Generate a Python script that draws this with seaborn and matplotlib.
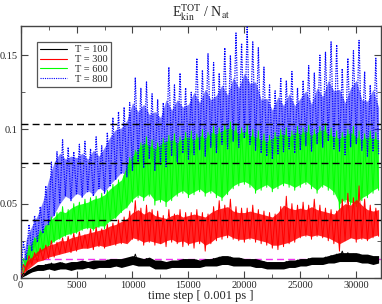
import numpy as np
import pandas as pd
import matplotlib
matplotlib.use("Agg")
import matplotlib.pyplot as plt
import seaborn as sns
from matplotlib.ticker import MultipleLocator, FormatStrFormatter

# noisy traces, read every 250 steps
steps = np.arange(0, 32001, 250)

t100 = [0.000, 0.003, 0.002, 0.005, 0.004, 0.007, 0.005, 0.008, 0.006, 0.009,
        0.006, 0.010, 0.007, 0.009, 0.006, 0.010, 0.007, 0.009, 0.006, 0.010,
        0.007, 0.009, 0.007, 0.011, 0.008, 0.010, 0.007, 0.011, 0.008, 0.010,
        0.008, 0.012, 0.008, 0.011, 0.008, 0.012, 0.009, 0.011, 0.009, 0.013,
        0.010, 0.016, 0.010, 0.012, 0.009, 0.013, 0.010, 0.012, 0.007, 0.010,
        0.007, 0.010, 0.007, 0.010, 0.008, 0.011, 0.008, 0.011, 0.009, 0.012,
        0.008, 0.011, 0.009, 0.012, 0.008, 0.011, 0.009, 0.012, 0.009, 0.013,
        0.010, 0.014, 0.010, 0.013, 0.010, 0.014, 0.010, 0.012, 0.009, 0.013,
        0.009, 0.012, 0.009, 0.012, 0.008, 0.011, 0.008, 0.011, 0.007, 0.010,
        0.007, 0.009, 0.007, 0.010, 0.008, 0.011, 0.008, 0.011, 0.009, 0.012,
        0.009, 0.012, 0.010, 0.013, 0.010, 0.013, 0.010, 0.013, 0.011, 0.014,
        0.011, 0.015, 0.012, 0.016, 0.013, 0.018, 0.013, 0.017, 0.012, 0.016,
        0.012, 0.016, 0.012, 0.015, 0.011, 0.014, 0.010, 0.014, 0.011]

t300 = [0.000, 0.009, 0.005, 0.015, 0.009, 0.017, 0.011, 0.020, 0.012, 0.022,
        0.013, 0.025, 0.014, 0.024, 0.016, 0.027, 0.017, 0.028, 0.017, 0.030,
        0.018, 0.031, 0.020, 0.029, 0.020, 0.033, 0.019, 0.034, 0.021, 0.033,
        0.020, 0.036, 0.022, 0.037, 0.022, 0.039, 0.023, 0.041, 0.024, 0.045,
        0.026, 0.052, 0.025, 0.047, 0.022, 0.049, 0.024, 0.046, 0.022, 0.045,
        0.023, 0.042, 0.021, 0.046, 0.024, 0.043, 0.023, 0.046, 0.021, 0.044,
        0.022, 0.044, 0.020, 0.046, 0.023, 0.044, 0.018, 0.043, 0.023, 0.048,
        0.025, 0.052, 0.026, 0.049, 0.027, 0.053, 0.026, 0.048, 0.025, 0.047,
        0.024, 0.047, 0.026, 0.049, 0.024, 0.046, 0.023, 0.045, 0.022, 0.044,
        0.020, 0.043, 0.019, 0.048, 0.021, 0.055, 0.023, 0.050, 0.024, 0.049,
        0.027, 0.051, 0.028, 0.049, 0.026, 0.053, 0.028, 0.049, 0.027, 0.047,
        0.025, 0.046, 0.023, 0.045, 0.018, 0.053, 0.025, 0.057, 0.027, 0.054,
        0.024, 0.062, 0.026, 0.053, 0.025, 0.049, 0.027, 0.047, 0.028]

t600 = [0.000, 0.013, 0.007, 0.022, 0.011, 0.027, 0.015, 0.032, 0.018, 0.035,
        0.021, 0.041, 0.024, 0.044, 0.026, 0.048, 0.028, 0.046, 0.029, 0.050,
        0.030, 0.051, 0.032, 0.053, 0.033, 0.054, 0.032, 0.055, 0.034, 0.057,
        0.033, 0.059, 0.038, 0.063, 0.040, 0.066, 0.044, 0.069, 0.047, 0.081,
        0.051, 0.086, 0.054, 0.091, 0.052, 0.095, 0.055, 0.093, 0.049, 0.091,
        0.051, 0.094, 0.048, 0.096, 0.052, 0.097, 0.055, 0.095, 0.057, 0.098,
        0.054, 0.099, 0.056, 0.097, 0.058, 0.100, 0.055, 0.098, 0.057, 0.102,
        0.054, 0.101, 0.052, 0.103, 0.056, 0.105, 0.060, 0.104, 0.062, 0.101,
        0.063, 0.103, 0.061, 0.100, 0.057, 0.099, 0.059, 0.097, 0.061, 0.096,
        0.058, 0.098, 0.060, 0.100, 0.062, 0.101, 0.061, 0.099, 0.059, 0.102,
        0.061, 0.101, 0.063, 0.103, 0.060, 0.100, 0.057, 0.102, 0.061, 0.104,
        0.059, 0.101, 0.056, 0.099, 0.045, 0.098, 0.051, 0.100, 0.049, 0.102,
        0.048, 0.099, 0.052, 0.097, 0.054, 0.099, 0.057, 0.098, 0.059]

t800 = [0.000, 0.024, 0.012, 0.036, 0.018, 0.042, 0.024, 0.048, 0.030, 0.062,
        0.036, 0.078, 0.042, 0.085, 0.050, 0.093, 0.055, 0.088, 0.052, 0.085,
        0.056, 0.090, 0.054, 0.092, 0.058, 0.087, 0.055, 0.095, 0.060, 0.089,
        0.057, 0.098, 0.062, 0.108, 0.066, 0.112, 0.070, 0.115, 0.068, 0.118,
        0.072, 0.135, 0.078, 0.128, 0.074, 0.132, 0.080, 0.124, 0.072, 0.120,
        0.076, 0.118, 0.075, 0.142, 0.082, 0.130, 0.078, 0.138, 0.084, 0.128,
        0.080, 0.125, 0.083, 0.148, 0.086, 0.140, 0.082, 0.151, 0.088, 0.145,
        0.084, 0.138, 0.090, 0.155, 0.087, 0.150, 0.092, 0.165, 0.088, 0.158,
        0.094, 0.169, 0.090, 0.159, 0.086, 0.155, 0.084, 0.142, 0.082, 0.130,
        0.080, 0.126, 0.083, 0.135, 0.085, 0.133, 0.087, 0.139, 0.084, 0.128,
        0.086, 0.133, 0.089, 0.143, 0.085, 0.138, 0.090, 0.150, 0.088, 0.152,
        0.092, 0.159, 0.087, 0.157, 0.085, 0.141, 0.083, 0.148, 0.088, 0.153,
        0.090, 0.160, 0.086, 0.139, 0.082, 0.130, 0.085, 0.148, 0.083]

# solid core of each noise band, read every 500 steps
core_steps = np.arange(0, 32001, 500)

lo_100 = [0, 0.002, 0.004, 0.005, 0.005, 0.006, 0.005, 0.006, 0.006, 0.005,
          0.006, 0.006, 0.007, 0.006, 0.007, 0.007, 0.007, 0.008, 0.007, 0.008,
          0.009, 0.008, 0.008, 0.008, 0.006, 0.006, 0.006, 0.007, 0.007, 0.007,
          0.007, 0.007, 0.007, 0.008, 0.008, 0.008, 0.009, 0.009, 0.008, 0.008,
          0.008, 0.008, 0.007, 0.007, 0.006, 0.006, 0.006, 0.006, 0.007, 0.007,
          0.008, 0.008, 0.009, 0.009, 0.009, 0.010, 0.010, 0.011, 0.011, 0.011,
          0.011, 0.010, 0.010, 0.009, 0.010]
hi_100 = [0, 0.005, 0.007, 0.009, 0.009, 0.010, 0.010, 0.011, 0.010, 0.011,
          0.011, 0.012, 0.011, 0.012, 0.012, 0.012, 0.013, 0.013, 0.013, 0.014,
          0.015, 0.014, 0.013, 0.014, 0.012, 0.012, 0.011, 0.012, 0.012, 0.013,
          0.013, 0.013, 0.012, 0.013, 0.013, 0.014, 0.015, 0.015, 0.014, 0.014,
          0.013, 0.013, 0.013, 0.012, 0.011, 0.011, 0.011, 0.011, 0.012, 0.012,
          0.013, 0.013, 0.014, 0.014, 0.014, 0.015, 0.016, 0.017, 0.017, 0.017,
          0.017, 0.016, 0.016, 0.015, 0.015]

lo_300 = [0, 0.005, 0.008, 0.011, 0.012, 0.014, 0.015, 0.016, 0.017, 0.018,
          0.019, 0.020, 0.020, 0.021, 0.022, 0.021, 0.022, 0.023, 0.024, 0.023,
          0.027, 0.026, 0.024, 0.025, 0.024, 0.023, 0.025, 0.026, 0.024, 0.025,
          0.023, 0.024, 0.025, 0.022, 0.024, 0.027, 0.028, 0.029, 0.027, 0.026,
          0.026, 0.027, 0.026, 0.025, 0.024, 0.022, 0.022, 0.023, 0.024, 0.026,
          0.028, 0.029, 0.028, 0.029, 0.028, 0.027, 0.025, 0.023, 0.025, 0.027,
          0.026, 0.027, 0.026, 0.028, 0.029]
hi_300 = [0, 0.011, 0.014, 0.018, 0.020, 0.022, 0.023, 0.025, 0.025, 0.027,
          0.028, 0.029, 0.030, 0.031, 0.032, 0.033, 0.035, 0.036, 0.038, 0.040,
          0.044, 0.046, 0.043, 0.045, 0.042, 0.041, 0.040, 0.042, 0.043, 0.041,
          0.042, 0.043, 0.042, 0.041, 0.044, 0.046, 0.047, 0.048, 0.045, 0.044,
          0.044, 0.045, 0.044, 0.043, 0.042, 0.041, 0.044, 0.049, 0.047, 0.046,
          0.047, 0.046, 0.048, 0.046, 0.045, 0.044, 0.043, 0.047, 0.050, 0.049,
          0.053, 0.049, 0.046, 0.045, 0.046]

lo_600 = [0, 0.007, 0.012, 0.016, 0.019, 0.022, 0.025, 0.027, 0.029, 0.030,
          0.031, 0.033, 0.034, 0.033, 0.035, 0.035, 0.039, 0.041, 0.045, 0.048,
          0.053, 0.056, 0.054, 0.057, 0.052, 0.053, 0.051, 0.054, 0.057, 0.059,
          0.056, 0.058, 0.060, 0.057, 0.059, 0.056, 0.054, 0.058, 0.062, 0.064,
          0.065, 0.063, 0.059, 0.061, 0.063, 0.060, 0.062, 0.064, 0.063, 0.061,
          0.063, 0.065, 0.062, 0.059, 0.063, 0.061, 0.058, 0.050, 0.053, 0.051,
          0.050, 0.054, 0.056, 0.059, 0.061]
hi_600 = [0, 0.017, 0.024, 0.029, 0.033, 0.038, 0.041, 0.045, 0.044, 0.047,
          0.049, 0.050, 0.051, 0.053, 0.054, 0.056, 0.060, 0.063, 0.066, 0.076,
          0.082, 0.087, 0.091, 0.089, 0.087, 0.090, 0.092, 0.093, 0.091, 0.094,
          0.095, 0.093, 0.096, 0.094, 0.098, 0.097, 0.099, 0.101, 0.100, 0.097,
          0.099, 0.096, 0.095, 0.093, 0.092, 0.094, 0.096, 0.097, 0.095, 0.098,
          0.097, 0.099, 0.096, 0.098, 0.100, 0.097, 0.095, 0.094, 0.096, 0.098,
          0.095, 0.093, 0.095, 0.094, 0.093]

lo_800 = [0, 0.012, 0.018, 0.025, 0.031, 0.037, 0.043, 0.050, 0.055, 0.053,
          0.057, 0.055, 0.059, 0.056, 0.061, 0.058, 0.063, 0.067, 0.071, 0.069,
          0.074, 0.080, 0.076, 0.082, 0.075, 0.079, 0.078, 0.084, 0.080, 0.086,
          0.083, 0.086, 0.088, 0.085, 0.090, 0.087, 0.092, 0.089, 0.094, 0.091,
          0.096, 0.092, 0.089, 0.087, 0.085, 0.083, 0.086, 0.088, 0.090, 0.087,
          0.089, 0.091, 0.088, 0.092, 0.090, 0.094, 0.090, 0.088, 0.086, 0.090,
          0.092, 0.089, 0.085, 0.088, 0.086]
hi_800 = [0, 0.026, 0.035, 0.042, 0.052, 0.066, 0.078, 0.084, 0.080, 0.082,
          0.081, 0.084, 0.080, 0.086, 0.082, 0.088, 0.095, 0.100, 0.101, 0.106,
          0.118, 0.112, 0.117, 0.110, 0.112, 0.108, 0.120, 0.113, 0.120, 0.115,
          0.117, 0.125, 0.118, 0.127, 0.120, 0.123, 0.130, 0.123, 0.135, 0.128,
          0.138, 0.131, 0.132, 0.120, 0.121, 0.113, 0.122, 0.116, 0.124, 0.116,
          0.121, 0.126, 0.117, 0.128, 0.122, 0.133, 0.126, 0.127, 0.118, 0.128,
          0.133, 0.120, 0.119, 0.127, 0.115]

temps = [100, 300, 600, 800]
colors = ["#000000", "#ff0000", "#00ff00", "#0000ff"]
traces = [t100, t300, t600, t800]
lows = [lo_100, lo_300, lo_600, lo_800]
highs = [hi_100, hi_300, hi_600, hi_800]
# 3/2 kB T reference levels (eV)
ref_levels = [0.0129, 0.0388, 0.0776, 0.1034]

sns.set_style("ticks")
plt.rcParams["font.family"] = ["Liberation Serif", "DejaVu Serif"]
plt.rcParams["mathtext.fontset"] = "stix"

fig = plt.figure(figsize=(3.82, 3.04), dpi=100)
ax = fig.add_axes([0.054, 0.086, 0.943, 0.830])

band_z = {100: 5, 300: 4, 600: 3, 800: 1.8}
band_a = {100: 1.0, 300: 0.85, 600: 0.85, 800: 0.5}
for T, tr, lo, hi, c in zip(temps, traces, lows, highs, colors):
    band = pd.DataFrame({"step": np.concatenate([core_steps, core_steps]),
                         "ekin": np.concatenate([lo, hi])})
    sns.lineplot(data=band, x="step", y="ekin", ax=ax, color=c, lw=0,
                 estimator="mean", errorbar=("pi", 100),
                 err_kws={"alpha": band_a[T], "lw": 0, "zorder": band_z[T]},
                 label="_nolegend_")
    ls = (0, (1, 1)) if T == 800 else "-"
    z = 6 if T == 800 else band_z[T] + 0.5
    lw = 0.9 if T == 800 else 0.7
    sns.lineplot(x=steps, y=tr, ax=ax, color=c, lw=lw, linestyle=ls,
                 estimator=None, sort=False, label=f"T = {T}", zorder=z)

# reference lines
ax.axhline(ref_levels[0], color="#ee33ee", lw=1.0, ls=(0, (5, 3)), zorder=1.5)
for lv in ref_levels[1:]:
    ax.axhline(lv, color="black", lw=1.0, ls=(0, (5, 3)), zorder=10)

ax.set_xlim(0, 32200)
ax.set_ylim(0, 0.17)
ax.xaxis.set_major_locator(MultipleLocator(5000))
ax.xaxis.set_minor_locator(MultipleLocator(2500))
ax.yaxis.set_major_locator(MultipleLocator(0.05))
ax.yaxis.set_minor_locator(MultipleLocator(0.025))
ax.yaxis.set_major_formatter(FormatStrFormatter("%g"))
ax.tick_params(which="both", direction="in", top=True, right=True,
               labelsize=7.5, color="#444444", pad=2)
ax.tick_params(which="major", length=5)
ax.tick_params(which="minor", length=3)
for s in ax.spines.values():
    s.set_color("#444444")
    s.set_linewidth(1.0)

ax.set_xlabel("time step [ 0.001 ps ]", fontsize=9, labelpad=0)
ax.set_ylabel("")
ax.set_title(r"E$_\mathrm{kin}^\mathrm{TOT}$ / N$_\mathrm{at}$", fontsize=10, pad=6)

leg = ax.legend(loc="upper left", bbox_to_anchor=(0.045, 0.935), fontsize=7.5,
                frameon=True, fancybox=False, edgecolor="#555555",
                handlelength=2.6, handletextpad=0.8, borderpad=0.3,
                labelspacing=0.05, borderaxespad=0)
leg.get_frame().set_linewidth(0.9)
leg.get_frame().set_alpha(1)
leg.set_zorder(20)
for h in leg.get_lines():
    h.set_linewidth(0.8)

fig.savefig("out.png", dpi=100)
